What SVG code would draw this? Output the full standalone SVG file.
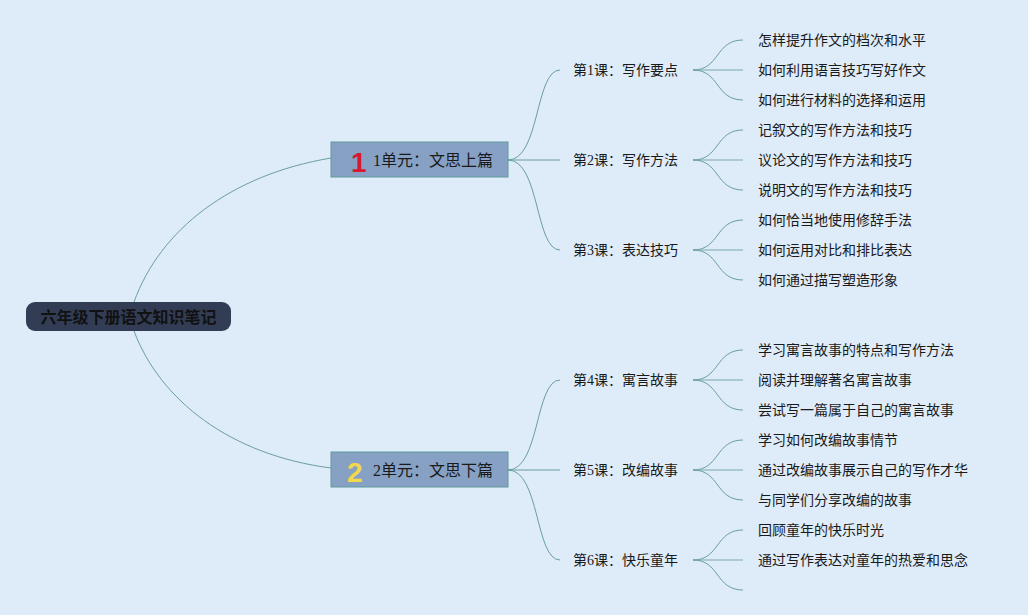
<svg xmlns="http://www.w3.org/2000/svg" width="1028" height="615" viewBox="0 0 1028 615">
<style>
.bg{fill:#deebf9}
.ln{fill:none;stroke:#6a9e9f;stroke-width:1}
.lnt{fill:none;stroke:#7aa9aa;stroke-width:1.2}
.t{font-family:"Liberation Serif","Noto Sans CJK SC",serif;font-size:14px;fill:#1a1a1a}
.u{fill:#87a1c4;stroke:#5e9a9c;stroke-width:1}
.ut{font-family:"Liberation Serif","Noto Sans CJK SC",serif;font-size:16px;fill:#1a1a1a}
.rt{font-family:"Noto Sans CJK SC",sans-serif;font-size:16px;font-weight:bold;fill:#111}
.num{font-family:"Liberation Sans",sans-serif;font-size:28px;font-weight:bold}
</style>
<rect class="bg" x="0" y="0" width="1028" height="615"/>
<g id="connectors">
<path class="ln" d="M134,302 C160,230 230,175 331,158"/>
<path class="ln" d="M134,331 C160,400 230,455 331,468"/>
<path class="ln" d="M508,160 C540,160 535,70 560,70"/>
<path class="ln" d="M508,160 L560,160"/>
<path class="ln" d="M508,160 C540,160 535,250 560,250"/>
<path class="ln" d="M508,470 C540,470 535,380 560,380"/>
<path class="ln" d="M508,470 L560,470"/>
<path class="ln" d="M508,470 C540,470 535,560 560,560"/>
<g id="leaf-links">
<path class="ln" d="M693,70 C720,70 715,40 743,40"/><path class="lnt" d="M693,70 L743,70"/><path class="ln" d="M693,70 C720,70 715,100 743,100"/>
<path class="ln" d="M693,160 C720,160 715,130 743,130"/><path class="lnt" d="M693,160 L743,160"/><path class="ln" d="M693,160 C720,160 715,190 743,190"/>
<path class="ln" d="M693,250 C720,250 715,220 743,220"/><path class="lnt" d="M693,250 L743,250"/><path class="ln" d="M693,250 C720,250 715,280 743,280"/>
<path class="ln" d="M693,380 C720,380 715,350 743,350"/><path class="lnt" d="M693,380 L743,380"/><path class="ln" d="M693,380 C720,380 715,410 743,410"/>
<path class="ln" d="M693,470 C720,470 715,440 743,440"/><path class="lnt" d="M693,470 L743,470"/><path class="ln" d="M693,470 C720,470 715,500 743,500"/>
<path class="ln" d="M693,560 C720,560 715,530 743,530"/><path class="lnt" d="M693,560 L743,560"/><path class="ln" d="M693,560 C720,560 715,590 743,590"/>
</g>
</g>
<g id="root">
<rect x="26" y="302" width="205" height="29" rx="9" fill="#323d55"/>
<text class="rt" x="128.5" y="322.5" text-anchor="middle">六年级下册语文知识笔记</text>
</g>
<g id="unit1">
<rect class="u" x="331" y="142" width="177" height="35"/>
<text class="num" x="351" y="172" fill="#d8182f">1</text>
<text class="ut" x="373" y="166">1单元：文思上篇</text>
</g>
<g id="unit2">
<rect class="u" x="331" y="452" width="177" height="35"/>
<text class="num" x="347" y="482" fill="#f2d94a">2</text>
<text class="ut" x="373" y="476">2单元：文思下篇</text>
</g>
<g id="lessons">
<text class="t" x="573" y="75">第1课：写作要点</text>
<text class="t" x="573" y="165">第2课：写作方法</text>
<text class="t" x="573" y="255">第3课：表达技巧</text>
<text class="t" x="573" y="385">第4课：寓言故事</text>
<text class="t" x="573" y="475">第5课：改编故事</text>
<text class="t" x="573" y="565">第6课：快乐童年</text>
</g>
<g id="leaves">
<text class="t" x="758" y="45">怎样提升作文的档次和水平</text>
<text class="t" x="758" y="75">如何利用语言技巧写好作文</text>
<text class="t" x="758" y="105">如何进行材料的选择和运用</text>
<text class="t" x="758" y="135">记叙文的写作方法和技巧</text>
<text class="t" x="758" y="165">议论文的写作方法和技巧</text>
<text class="t" x="758" y="195">说明文的写作方法和技巧</text>
<text class="t" x="758" y="225">如何恰当地使用修辞手法</text>
<text class="t" x="758" y="255">如何运用对比和排比表达</text>
<text class="t" x="758" y="285">如何通过描写塑造形象</text>
<text class="t" x="758" y="355">学习寓言故事的特点和写作方法</text>
<text class="t" x="758" y="385">阅读并理解著名寓言故事</text>
<text class="t" x="758" y="415">尝试写一篇属于自己的寓言故事</text>
<text class="t" x="758" y="445">学习如何改编故事情节</text>
<text class="t" x="758" y="475">通过改编故事展示自己的写作才华</text>
<text class="t" x="758" y="505">与同学们分享改编的故事</text>
<text class="t" x="758" y="535">回顾童年的快乐时光</text>
<text class="t" x="758" y="565">通过写作表达对童年的热爱和思念</text>
</g>
</svg>
